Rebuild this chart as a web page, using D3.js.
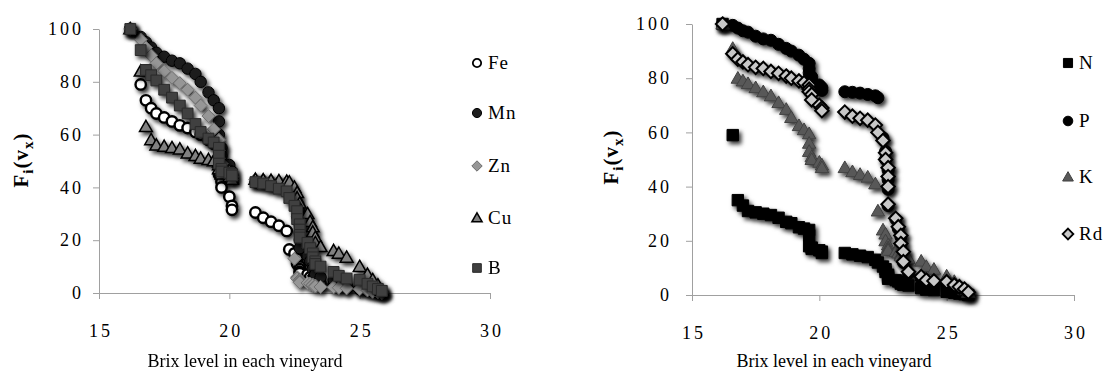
<!DOCTYPE html>
<html>
<head>
<meta charset="utf-8">
<script src="https://cdn.jsdelivr.net/npm/d3@7"></script>
<style>
  body { margin: 0; background: #fff; }
  svg text { font-family: "Liberation Serif", "Times New Roman", serif; fill: #000; }
</style>
</head>
<body>
<svg id="chart" width="1110" height="373"></svg>
<script>
// Brix of each vineyard (shared by every series, sorted low -> high)
const brix = [16.2, 16.6, 16.8, 17.0, 17.2, 17.5, 17.8, 18.1, 18.4, 18.7, 18.9, 19.2, 19.4, 19.6, 19.6, 19.6, 19.7, 19.7, 20.0, 20.1, 20.1,
  21.0, 21.3, 21.6, 21.9, 22.2, 22.3, 22.5, 22.6, 22.6, 22.7, 22.7, 22.7, 22.7, 23.0, 23.1, 23.2, 23.2, 23.3, 23.3, 23.5, 24.0, 24.2, 24.5, 25.0, 25.3, 25.5, 25.7, 25.85];

// left panel: micro nutrients
const fe = [100, 79, 73, 70, 68, 66.5, 65, 63.5, 62.5, 61, 60, 58, 56.5, 55, 50, 45, 42, 40, 36.5, 33, 31.5,
  30.5, 28.5, 27, 25.5, 23.5, 16.5, 15, 13, 11, 10, 9, 8, 7.5, 7, 6, 5.5, 5, 4.5, 4, 3.5, 3, 2.5, 2, 1.5, 1, 0.7, 0.3, 0];
const mn = [100, 97, 95, 93, 91, 89.5, 88, 87, 85, 83, 80, 76, 73, 70, 65, 60, 55, 52, 48.5, 46, 45,
  42, 41.5, 41, 40.5, 40, 38, 35, 32, 29, 26, 23, 20, 17, 14, 12, 10, 9, 8, 7, 6, 5, 4, 3, 2, 1.5, 1, 0.5, 0];
const zn = [100, 96, 93, 90, 87, 84, 81.5, 79.5, 77, 74, 71, 67, 62, 58, 54, 51, 49, 47, 45.5, 44, 43,
  43, 42.8, 42.5, 42.2, 42, 41, 13, 6, 5.5, 5, 4.5, 4.2, 4, 3.8, 3.5, 3.2, 3, 2.8, 2.5, 2.3, 2.2, 2, 1.8, 1.5, 1, 0.5, 0.3, 0];
const cu = [100, 84, 63, 58, 56, 55.5, 55, 54.5, 53, 52, 51, 50.5, 50, 49.5, 48.5, 47, 46, 45, 44, 43.5, 43,
  43, 42.8, 42.6, 42.5, 42.3, 42, 40, 38, 36, 34, 32, 31, 30.5, 30, 27, 25, 23, 21, 19, 17.5, 16, 15, 13.5, 10, 7, 5, 3, 1];
const b = [100, 92, 84.5, 82.5, 80.5, 77, 74, 71, 68, 64, 61, 58.5, 57, 55, 52, 49, 47, 46, 45.5, 45, 44.5,
  42, 41.5, 40.5, 39.5, 38.5, 36, 33, 31, 28, 26, 24, 22, 21, 19, 17, 15, 13.5, 12, 11, 10, 8, 6.5, 5.5, 5, 3.5, 2.5, 1.5, 0.8];

// right panel: macro nutrients + Rd
const n = [100, 59, 35, 33, 31, 30.5, 30, 29.5, 28.5, 27, 26.5, 25, 24.5, 24, 22, 18, 17.5, 17, 16.5, 16, 15.5,
  15.5, 15, 14.5, 14, 13, 12, 10.5, 9.5, 8.5, 7.5, 7, 6.5, 6, 5.5, 5, 4.5, 4.2, 4, 3.8, 3.5, 2.5, 2, 1.8, 1.2, 0.8, 0.5, 0.3, 0];
const p = [100, 99.5, 98.5, 97.5, 97, 95.5, 94.5, 94, 92.5, 91, 90, 88.5, 87, 85.5, 83.5, 82, 80.5, 79, 77.5, 76.5, 75.5,
  75, 74.8, 74.5, 74, 73.5, 72.8, 58, 53, 50, 46, 42.5, 39, 33, 28, 24.5, 21.5, 18.5, 15.5, 12, 8, 6, 5, 4.5, 4, 3, 2.5, 1.5, 0.5];
const k = [100, 91, 80, 79, 78, 76.5, 75, 73.5, 71, 68.5, 65.5, 62.5, 61, 59.5, 56, 53, 51, 50, 49, 48, 47,
  47, 45.5, 44.5, 43.5, 41, 31, 24, 22.5, 20, 18.5, 17.5, 17, 16.5, 16, 15.5, 15, 14.5, 14, 13.8, 13.5, 12.5, 10.5, 9.5, 7, 5, 3.5, 2, 1];
const rd = [100, 89, 87, 86, 85, 84, 83.6, 82.5, 81.8, 80.8, 80, 79, 78.3, 77.5, 76, 75, 74, 72, 70, 69, 68,
  67.5, 66, 65.2, 64.5, 62.7, 60, 57, 52.5, 50, 47, 43.7, 40, 33.5, 28.3, 25.2, 22, 19, 16, 12.3, 8.6, 6.8, 5.5, 5.2, 4.9, 3.7, 3, 2.2, 1];

const xTicks = [15, 20, 25, 30];
const yTicks = [0, 20, 40, 60, 80, 100];
const leftNames = ["Fe", "Mn", "Zn", "Cu", "B"];
const rightNames = ["N", "P", "K", "Rd"];
const xTitle = "Brix level in each vineyard";

const svg = d3.select("#chart");

// drop shadow like the excel markers
const defs = svg.append("defs");
defs.append("filter")
    .attr("id", "shadow")
    .attr("x", "-20%").attr("y", "-20%").attr("width", "140%").attr("height", "140%")
  .append("feDropShadow")
    .attr("dx", 2.5).attr("dy", 3)
    .attr("stdDeviation", 2)
    .attr("flood-color", "#000")
    .attr("flood-opacity", 0.8);

// marker outlines, s = half size
function shape(type, s) {
  if (type === "circle") return `M${s},0A${s},${s} 0 1,1 ${-s},0A${s},${s} 0 1,1 ${s},0Z`;
  if (type === "square") return `M${-s},${-s}h${2 * s}v${2 * s}h${-2 * s}Z`;
  if (type === "diamond") return `M0,${-s}L${s},0L0,${s}L${-s},0Z`;
  return `M0,${-s}L${s},${s * 0.75}L${-s},${s * 0.75}Z`; // triangle
}

function drawPanel(cfg) {
  const x = d3.scaleLinear().domain([15, 30]).range([cfg.x0, cfg.x1]);
  const y = d3.scaleLinear().domain([0, 100]).range([cfg.y0, cfg.y1]);

  // axes
  const xAxis = svg.append("g")
      .attr("transform", "translate(0," + cfg.y0 + ")")
      .call(d3.axisBottom(x).tickValues(xTicks).tickSize(6).tickSizeOuter(0).tickPadding(25));
  const yAxis = svg.append("g")
      .attr("transform", "translate(" + cfg.x0 + ",0)")
      .call(d3.axisLeft(y).tickValues(yTicks).tickSize(6).tickSizeOuter(0).tickPadding(cfg.yPad));
  [xAxis, yAxis].forEach(a => {
    a.select(".domain").attr("stroke", "#a0a0a0");
    a.selectAll(".tick line").attr("stroke", "#a0a0a0");
    a.selectAll(".tick text")
        .style("font-family", '"Liberation Serif", serif')
        .style("font-size", "18px")
        .style("letter-spacing", "3px")
        .attr("fill", "#000");
  });
  xAxis.selectAll(".tick text").attr("dx", 1.5);

  // series, later ones on top
  cfg.series.forEach(s => {
    svg.append("g")
        .attr("filter", "url(#shadow)")
      .selectAll("path")
      .data(s.values.map((v, i) => [brix[i], v]))
      .join("path")
        .attr("transform", d => "translate(" + x(d[0]) + "," + y(d[1]) + ")")
        .attr("d", shape(s.type, s.size))
        .attr("fill", s.fill)
        .attr("stroke", s.stroke)
        .attr("stroke-width", s.sw);
  });

  // legend
  cfg.series.forEach((s, i) => {
    const ly = cfg.legendY[i];
    svg.append("path")
        .attr("transform", "translate(" + cfg.legendX + "," + ly + ")")
        .attr("d", shape(s.type, s.size * 0.8))
        .attr("fill", s.fill)
        .attr("stroke", s.stroke)
        .attr("stroke-width", Math.min(s.sw, 1.8));
    svg.append("text")
        .attr("x", cfg.legendX + 11)
        .attr("y", ly + 6)
        .style("font-size", "19px")
        .style("letter-spacing", "1px")
        .text(s.name);
  });

  // axis titles
  svg.append("text")
      .attr("x", cfg.titleX)
      .attr("y", 367)
      .attr("text-anchor", "middle")
      .style("font-size", "18px")
      .text(xTitle);

  const yt = svg.append("text")
      .attr("text-anchor", "middle")
      .attr("transform", "translate(" + cfg.yTitleX + "," + cfg.yTitleY + ")rotate(-90)")
      .style("font-size", "21px")
      .style("letter-spacing", "1px")
      .style("font-weight", "bold");
  yt.append("tspan").text("F");
  yt.append("tspan").attr("dy", 5).style("font-size", "15px").text("i");
  yt.append("tspan").attr("dy", -5).text("(v");
  yt.append("tspan").attr("dy", 5).style("font-size", "15px").text("x");
  yt.append("tspan").attr("dy", -5).text(")");
}

drawPanel({
  x0: 99, x1: 490, y0: 293, y1: 29, yPad: 9,
  legendX: 477, legendY: [63, 113, 166, 218, 268],
  titleX: 245, yTitleX: 28, yTitleY: 160,
  series: [
    { name: leftNames[0], values: fe, type: "circle", size: 5.2, fill: "#fff", stroke: "#000", sw: 2.4 },
    { name: leftNames[1], values: mn, type: "circle", size: 5.7, fill: "#1e1e1e", stroke: "#000", sw: 1 },
    { name: leftNames[2], values: zn, type: "diamond", size: 6.5, fill: "#969696", stroke: "#6e6e6e", sw: 1 },
    { name: leftNames[3], values: cu, type: "triangle", size: 6.4, fill: "#808080", stroke: "#000", sw: 1.5 },
    { name: leftNames[4], values: b, type: "square", size: 5.4, fill: "#3f3f3f", stroke: "#2a2a2a", sw: 1 }
  ]
});

drawPanel({
  x0: 692, x1: 1074, y0: 295, y1: 24, yPad: 14,
  legendX: 1068, legendY: [63, 121, 177, 234],
  titleX: 834, yTitleX: 618, yTitleY: 157,
  series: [
    { name: rightNames[0], values: n, type: "square", size: 5.7, fill: "#000", stroke: "#000", sw: 1 },
    { name: rightNames[1], values: p, type: "circle", size: 6, fill: "#000", stroke: "#000", sw: 1 },
    { name: rightNames[2], values: k, type: "triangle", size: 6.7, fill: "#595959", stroke: "#404040", sw: 1 },
    { name: rightNames[3], values: rd, type: "diamond", size: 6.7, fill: "#c8c8c8", stroke: "#000", sw: 2 }
  ]
});
</script>
</body>
</html>
